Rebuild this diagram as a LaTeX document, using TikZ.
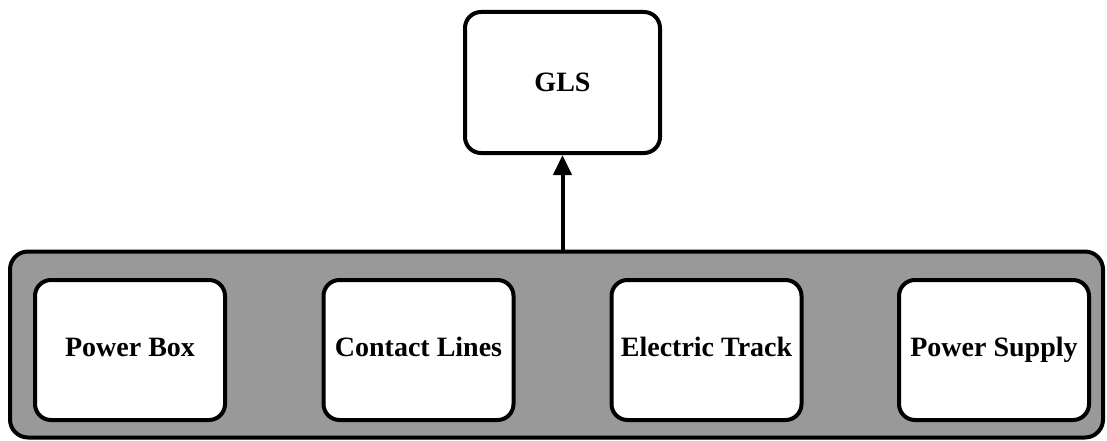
\documentclass[tikz,border=0pt]{standalone}
\usepackage{fontspec}
\setmainfont{Liberation Serif}
\usetikzlibrary{arrows.meta}
\definecolor{panelgrey}{RGB}{153,153,153}
\begin{document}
\begin{tikzpicture}[x=1pt,y=-1pt,
  box/.style={draw=black, line width=4pt, rounded corners=16pt, fill=white,
    minimum width=190pt, minimum height=140pt, inner sep=0pt,
    text height=18pt, text depth=6pt,
    font=\fontsize{28}{32}\selectfont\bfseries},
  link/.style={line width=4pt, -{Triangle[length=20pt,width=18pt]}}]
\useasboundingbox (0,0) rectangle (1107,441);
% grey container holding the four components
\node[draw=black, line width=4pt, rounded corners=18pt, fill=panelgrey,
  minimum width=1093pt, minimum height=186pt, inner sep=0pt] (panel) at (556.5,344.5) {};
\node[box, minimum width=195pt, minimum height=141pt, text depth=0pt] (gls) at (562.5,82.5) {GLS};
\node[box] (pbox) at (130,350) {Power Box};
\node[box] (cl) at (418.5,350) {Contact Lines};
\node[box] (et) at (706.5,350) {Electric Track};
\node[box] (ps) at (994,350) {Power Supply};
\draw[link] (panel.north -| gls.south) -- (gls.south);
\end{tikzpicture}
\end{document}
